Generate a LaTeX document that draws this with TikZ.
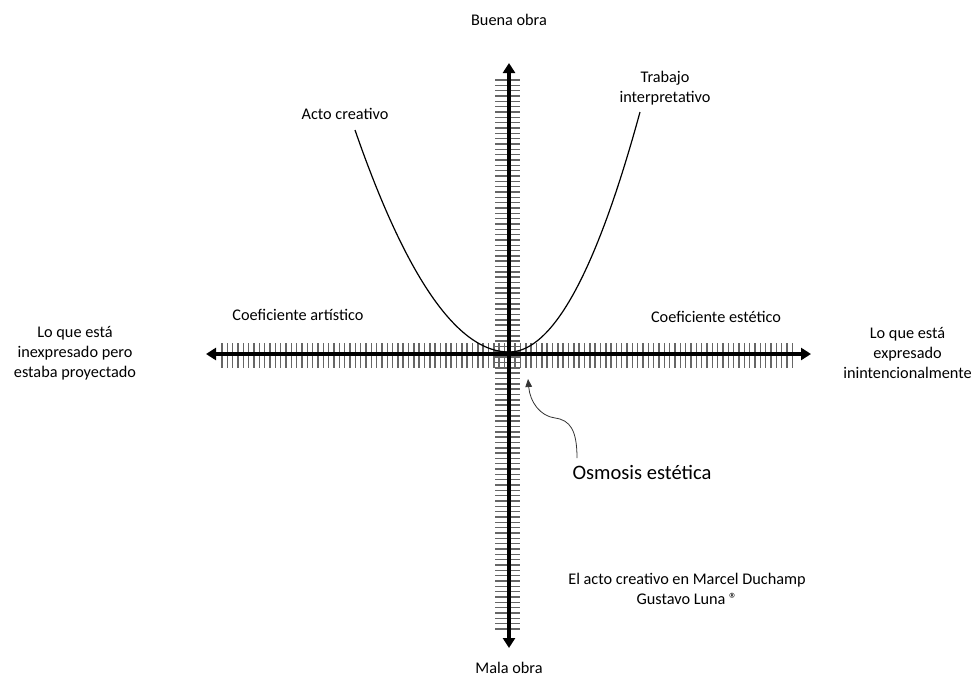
\documentclass[tikz,border=0pt]{standalone}
\usepackage{fontspec}
\setmainfont{Carlito}
\usetikzlibrary{arrows.meta}

\begin{document}
\begin{tikzpicture}[
            x=0.75pt,
            y=-0.75pt,
            every node/.style={
                inner sep=0pt,
                align=center,
                font=\fontsize{12.2}{15}\selectfont
            },
            axis/.style={
                line width=3pt,
                {Triangle[length=7.5pt,width=9pt]}-{Triangle[length=7.5pt,width=9pt]}
            },
            marca/.style={
                line width=1.1pt,
                black!60
            },
            curva/.style={
                line width=0.9pt
            },
            flecha/.style={
                line width=0.6pt,
                black!80,
                -{Triangle[length=6pt,width=5pt]}
            }
        ]
            \useasboundingbox (0,0) rectangle (974,678);

            % ends of the axes
            \coordinate (izqfin) at (206,354);
            \coordinate (derfin) at (811,354);
            \coordinate (arriba) at (509,63);
            \coordinate (abajo) at (509,648);

            % tick marks
            \foreach \i in {0,...,107}
                \draw[marca] (222+\i*5.33,343) -- ++(0,25);
            \foreach \j in {0,...,103}
                \draw[marca] (495,80+\j*5.33) -- ++(25,0);

            \draw[axis] (izqfin) -- (derfin);
            \draw[axis] (abajo) -- (arriba);

            % creative act and interpretive work
            \draw[curva] plot[domain=0:154, samples=60]
                ({509-\x}, {352-222*(\x/154)^2});
            \draw[curva] plot[domain=0:131, samples=60]
                ({509+\x}, {352-240*(\x/131)^2});

            \node (buena) at (509,20) {Buena obra};
            \node (mala) at (509,668) {Mala obra};
            \node (trabajo) at (665,88) {Trabajo\\interpretativo};
            \node (acto) at (345,114) {Acto creativo};
            \node (coefart) at (298,315) {Coeficiente artístico};
            \node (coefest) at (716,317) {Coeficiente estético};
            \node (izq) at (75,353) {Lo que está\\inexpresado pero\\estaba proyectado};
            \node[anchor=east] (der) at (972,353) {Lo que está\\expresado\\inintencionalmente};
            \node (firma) at (687,589) {El acto creativo en Marcel Duchamp\\Gustavo Luna ®};
            \node[font=\fontsize{15.4}{18}\selectfont] (osmo) at (642,472) {Osmosis estética};

            \coordinate (osmcola) at (577,458);
            \coordinate (osmpunta) at (528,379);
            \draw[flecha] (osmcola) .. controls (577,430) and (570,420) .. (555,418)
                .. controls (540,416) and (530,402) .. (osmpunta);
        \end{tikzpicture}
\end{document}
